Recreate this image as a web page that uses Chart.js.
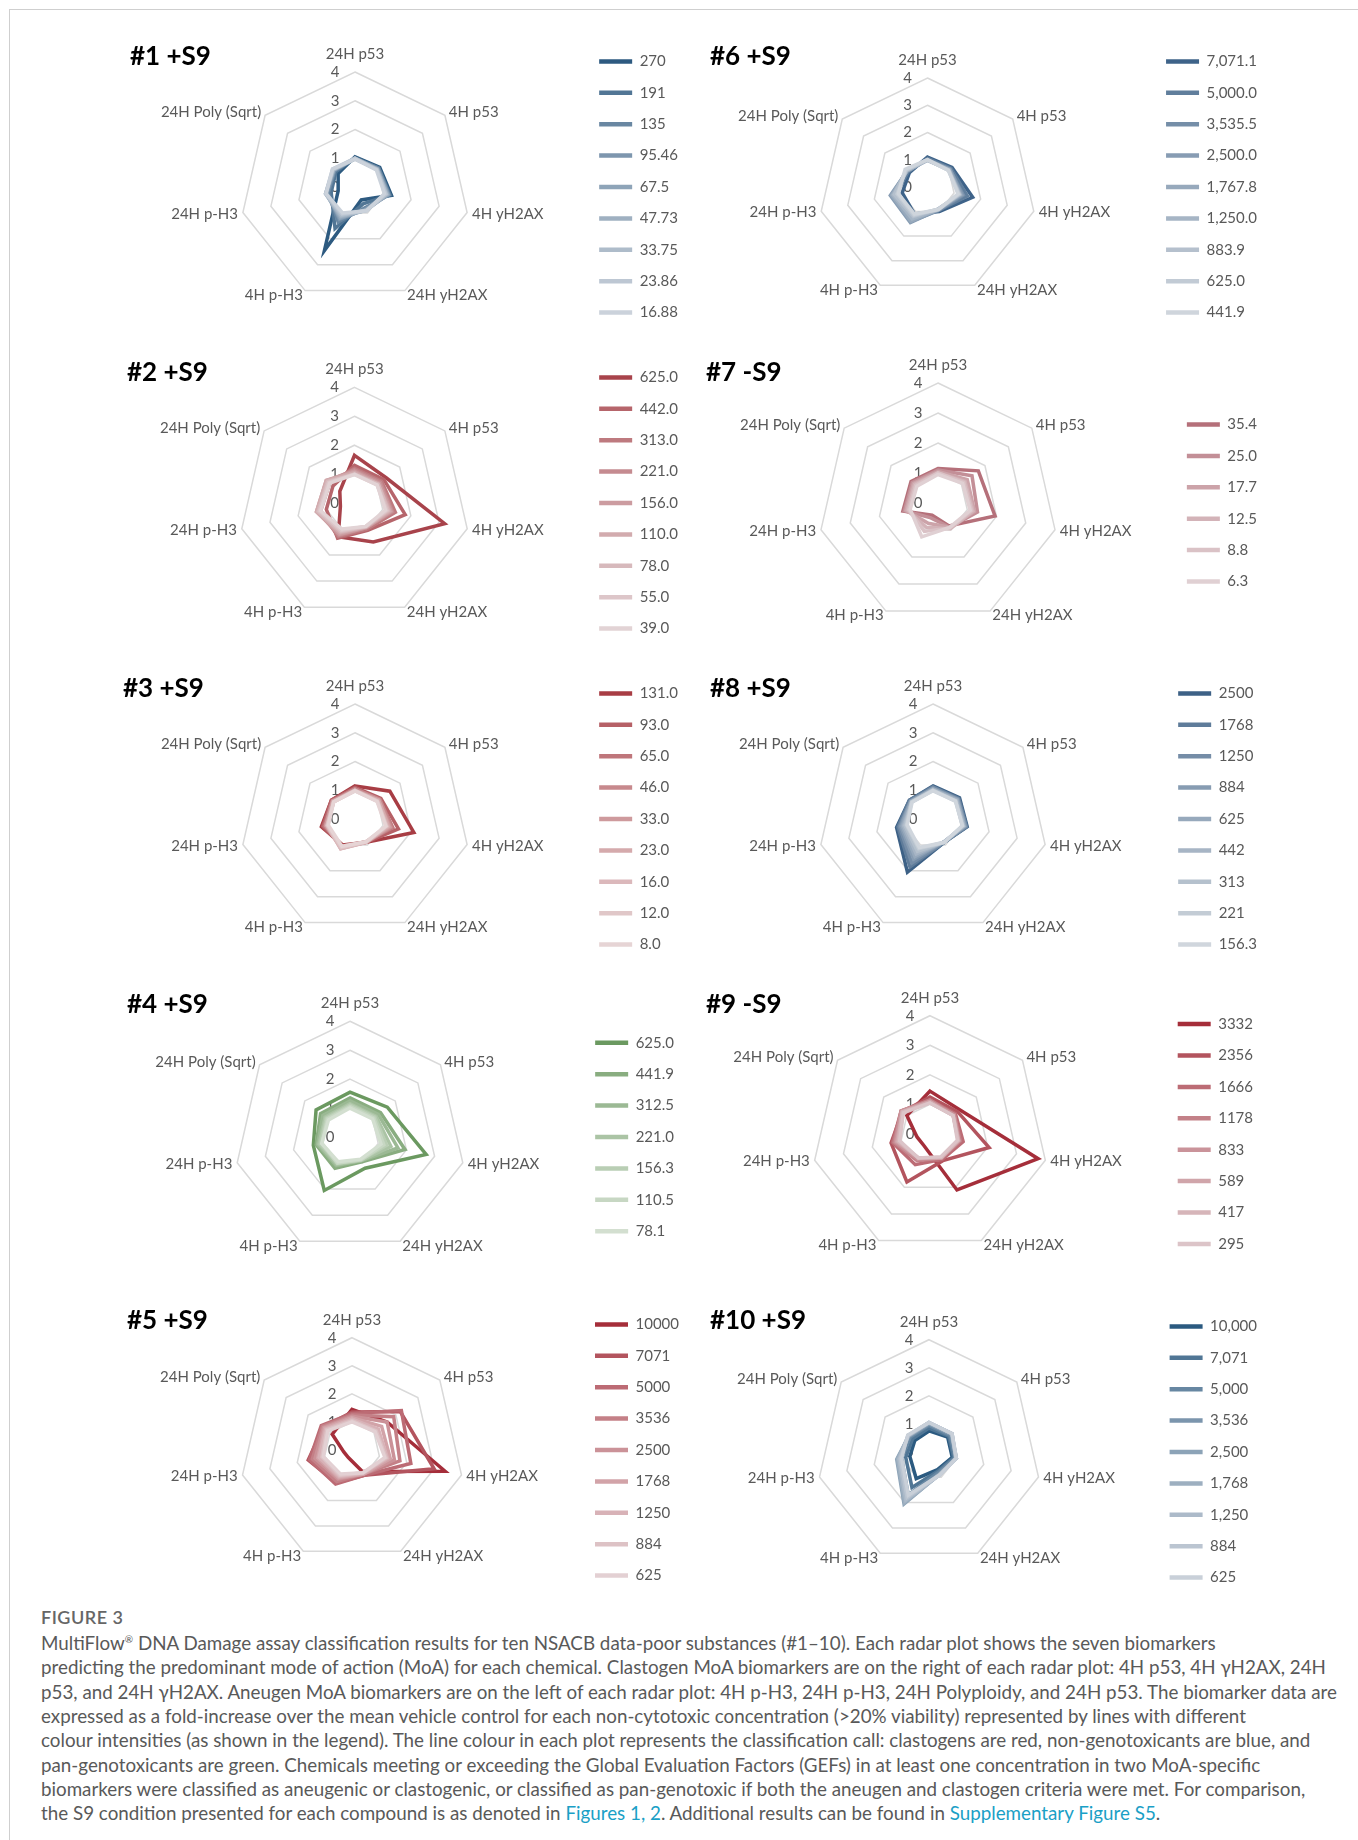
<!DOCTYPE html>
<html>
<head>
<meta charset="utf-8">
<script src="https://cdn.jsdelivr.net/npm/chart.js@4.4.1/dist/chart.umd.min.js"></script>
<style>
  html, body { margin: 0; padding: 0; background: #ffffff; }
  body { width: 1358px; height: 1840px; position: relative; overflow: hidden; font-family: Lato, "Open Sans", sans-serif; }
  .frame { position: absolute; left: 9px; top: 9px; right: 0; bottom: 0; border-left: 1px solid #cfcfcf; border-top: 1px solid #cfcfcf; }
  .ptitle { position: absolute; font: bold 26px Lato, sans-serif; line-height: 30px; color: #000; white-space: nowrap; z-index: 2; }
  canvas { position: absolute; }
  .fig { position: absolute; left: 41px; top: 1605px; font: 600 18px Lato, sans-serif; line-height: 24px; color: #666; letter-spacing: 0.5px; }
  .cap { position: absolute; left: 41px; top: 1631px; font: 18.8px Lato, sans-serif; line-height: 24.35px; color: #595959; white-space: nowrap; }
  .cap a { color: #1aa0c6; text-decoration: none; }
  .cap sup { font-size: 10px; line-height: 0; vertical-align: 7px; }
</style>
</head>
<body>
<div class="frame"></div>
<div id="root"></div>
<div class="fig">FIGURE 3</div>
<div class="cap">MultiFlow<sup>®</sup> DNA Damage assay classification results for ten NSACB data-poor substances (#1–10). Each radar plot shows the seven biomarkers<br>predicting the predominant mode of action (MoA) for each chemical. Clastogen MoA biomarkers are on the right of each radar plot: 4H p53, 4H γH2AX, 24H<br>p53, and 24H γH2AX. Aneugen MoA biomarkers are on the left of each radar plot: 4H p-H3, 24H p-H3, 24H Polyploidy, and 24H p53. The biomarker data are<br>expressed as a fold-increase over the mean vehicle control for each non-cytotoxic concentration (&gt;20% viability) represented by lines with different<br>colour intensities (as shown in the legend). The line colour in each plot represents the classification call: clastogens are red, non-genotoxicants are blue, and<br>pan-genotoxicants are green. Chemicals meeting or exceeding the Global Evaluation Factors (GEFs) in at least one concentration in two MoA-specific<br>biomarkers were classified as aneugenic or clastogenic, or classified as pan-genotoxic if both the aneugen and clastogen criteria were met. For comparison,<br>the S9 condition presented for each compound is as denoted in <a>Figures 1, 2</a>. Additional results can be found in <a>Supplementary Figure S5</a>.</div>
<script>
// ---------- DATA ----------
const axisLabels = ['24H p53', '4H p53', '4H yH2AX', '24H yH2AX', '4H p-H3', '24H p-H3', '24H Poly (Sqrt)'];
const tickValues = [0, 1, 2, 3, 4];

const conc1 = ['270', '191', '135', '95.46', '67.5', '47.73', '33.75', '23.86', '16.88'];
const fold1 = [
  [1.05, 1.10, 1.30, 0.50, 2.45, 0.60, 0.75],
  [1.02, 1.05, 1.25, 0.65, 1.60, 0.85, 0.85],
  [1.00, 1.05, 1.22, 0.80, 1.35, 0.95, 0.90],
  [1.00, 1.02, 1.20, 0.85, 1.25, 1.00, 0.92],
  [0.98, 1.00, 1.18, 0.88, 1.20, 1.02, 0.95],
  [1.00, 1.00, 1.15, 0.90, 1.15, 1.05, 0.95],
  [0.98, 0.98, 1.12, 0.90, 1.10, 1.05, 0.97],
  [1.00, 0.97, 1.10, 0.92, 1.05, 1.05, 1.00],
  [0.97, 0.95, 1.05, 0.92, 1.00, 1.03, 1.00]
];

const conc2 = ['625.0', '442.0', '313.0', '221.0', '156.0', '110.0', '78.0', '55.0', '39.0'];
const fold2 = [
  [1.65, 1.40, 3.20, 1.50, 1.30, 0.50, 0.65],
  [1.30, 1.30, 1.80, 1.05, 1.35, 1.00, 0.95],
  [1.20, 1.20, 1.45, 1.00, 1.30, 1.20, 1.10],
  [1.15, 1.15, 1.35, 0.95, 1.25, 1.30, 1.20],
  [1.10, 1.10, 1.30, 0.95, 1.20, 1.35, 1.25],
  [1.05, 1.05, 1.25, 0.92, 1.15, 1.35, 1.25],
  [1.00, 1.05, 1.20, 0.92, 1.10, 1.30, 1.20],
  [1.00, 1.00, 1.15, 0.90, 1.05, 1.25, 1.15],
  [0.98, 1.00, 1.10, 0.90, 1.00, 1.20, 1.10]
];

const conc3 = ['131.0', '93.0', '65.0', '46.0', '33.0', '23.0', '16.0', '12.0', '8.0'];
const fold3 = [
  [1.15, 1.55, 2.10, 0.90, 1.00, 1.20, 1.05],
  [1.10, 1.15, 1.55, 0.90, 1.05, 1.15, 1.05],
  [1.05, 1.10, 1.35, 0.88, 1.05, 1.10, 1.02],
  [1.05, 1.10, 1.30, 0.90, 1.10, 1.05, 1.00],
  [1.00, 1.05, 1.25, 0.88, 1.10, 1.05, 1.00],
  [1.00, 1.05, 1.20, 0.90, 1.15, 1.00, 0.98],
  [1.00, 1.00, 1.15, 0.90, 1.15, 1.00, 0.95],
  [0.98, 1.00, 1.12, 0.88, 1.10, 0.98, 0.95],
  [0.98, 0.98, 1.10, 0.88, 1.05, 0.95, 0.95]
];

const conc4 = ['625.0', '441.9', '312.5', '221.0', '156.3', '110.5', '78.1'];
const fold4 = [
  [1.55, 1.65, 2.70, 1.20, 2.05, 1.30, 1.50],
  [1.35, 1.35, 1.95, 0.95, 1.20, 1.20, 1.30],
  [1.25, 1.25, 1.70, 0.90, 1.10, 1.15, 1.20],
  [1.15, 1.15, 1.45, 0.90, 1.05, 1.10, 1.10],
  [1.10, 1.10, 1.30, 0.88, 1.00, 1.05, 1.05],
  [1.05, 1.05, 1.20, 0.88, 1.00, 1.00, 1.00],
  [1.00, 1.00, 1.10, 0.85, 0.95, 1.00, 0.95]
];

const conc5 = ['10000', '7071', '5000', '3536', '2500', '1768', '1250', '884', '625'];
const fold5 = [
  [1.45, 1.60, 3.40, 0.85, 0.30, 0.30, 0.90],
  [1.35, 2.20, 3.00, 1.00, 1.30, 1.60, 1.30],
  [1.30, 2.25, 2.15, 1.00, 1.35, 1.55, 1.40],
  [1.25, 1.90, 1.75, 0.95, 1.25, 1.45, 1.35],
  [1.20, 1.60, 1.55, 0.95, 1.15, 1.35, 1.30],
  [1.15, 1.35, 1.40, 0.95, 1.10, 1.25, 1.25],
  [1.10, 1.20, 1.30, 0.92, 1.05, 1.20, 1.20],
  [1.05, 1.10, 1.25, 0.90, 1.00, 1.10, 1.15],
  [1.00, 1.05, 1.20, 0.90, 0.95, 1.05, 1.10]
];

const conc6 = ['7,071.1', '5,000.0', '3,535.5', '2,500.0', '1,767.8', '1,250.0', '883.9', '625.0', '441.9'];
const fold6 = [
  [1.10, 1.15, 1.70, 1.00, 1.10, 0.95, 0.85],
  [1.05, 1.10, 1.50, 0.95, 1.25, 1.20, 0.90],
  [1.00, 1.05, 1.35, 0.95, 1.40, 1.35, 0.95],
  [1.00, 1.05, 1.30, 0.92, 1.45, 1.40, 0.95],
  [0.98, 1.02, 1.25, 0.90, 1.40, 1.35, 0.95],
  [1.00, 1.00, 1.22, 0.92, 1.30, 1.30, 0.97],
  [0.98, 1.00, 1.20, 0.90, 1.20, 1.25, 1.00],
  [1.00, 0.98, 1.18, 0.90, 1.15, 1.15, 1.00],
  [1.00, 0.98, 1.15, 0.92, 1.10, 1.10, 1.05]
];

const conc7 = ['35.4', '25.0', '17.7', '12.5', '8.8', '6.3'];
const fold7 = [
  [1.15, 1.72, 1.95, 0.85, 0.45, 1.20, 1.15],
  [1.10, 1.45, 1.35, 0.90, 0.55, 1.15, 1.10],
  [1.05, 1.25, 1.25, 0.90, 0.75, 1.10, 1.05],
  [1.00, 1.15, 1.20, 0.95, 0.90, 1.05, 1.00],
  [1.00, 1.10, 1.15, 0.92, 1.05, 1.00, 0.95],
  [0.95, 1.05, 1.10, 0.90, 1.25, 0.95, 0.90]
];

const conc8 = ['2500', '1768', '1250', '884', '625', '442', '313', '221', '156.3'];
const fold8 = [
  [1.15, 1.18, 1.22, 0.90, 2.05, 1.30, 1.05],
  [1.12, 1.15, 1.20, 0.90, 1.85, 1.25, 1.05],
  [1.10, 1.12, 1.18, 0.90, 1.70, 1.20, 1.00],
  [1.05, 1.10, 1.15, 0.88, 1.55, 1.15, 1.00],
  [1.05, 1.08, 1.12, 0.88, 1.45, 1.10, 0.98],
  [1.02, 1.05, 1.10, 0.88, 1.35, 1.05, 0.95],
  [1.00, 1.02, 1.08, 0.90, 1.25, 1.00, 0.95],
  [1.00, 1.00, 1.05, 0.90, 1.15, 0.95, 0.95],
  [0.98, 1.00, 1.05, 0.90, 1.10, 0.92, 0.93]
];

const conc9 = ['3332', '2356', '1666', '1178', '833', '589', '417', '295'];
const fold9 = [
  [1.45, 1.30, 3.75, 2.10, 0.45, 0.45, 1.00],
  [1.25, 1.20, 2.05, 1.00, 1.80, 1.35, 1.20],
  [1.15, 1.10, 1.15, 0.95, 1.15, 1.30, 1.25],
  [1.15, 1.05, 1.05, 0.90, 1.00, 1.25, 1.25],
  [1.10, 1.05, 1.00, 0.90, 0.95, 1.20, 1.25],
  [1.10, 1.00, 1.00, 0.88, 0.90, 1.15, 1.20],
  [1.05, 1.00, 0.98, 0.88, 0.90, 1.10, 1.20],
  [1.05, 1.00, 0.95, 0.85, 0.90, 1.05, 1.15]
];

const conc10 = ['10,000', '7,071', '5,000', '3,536', '2,500', '1,768', '1,250', '884', '625'];
const fold10 = [
  [0.75, 0.85, 0.85, 0.70, 1.05, 0.70, 0.65],
  [0.85, 0.90, 0.90, 0.75, 1.40, 0.85, 0.75],
  [0.95, 0.95, 0.95, 0.80, 1.70, 1.00, 0.85],
  [1.00, 1.00, 1.00, 0.85, 1.90, 1.10, 0.90],
  [1.02, 1.02, 1.00, 0.88, 2.05, 1.18, 0.92],
  [1.05, 1.05, 0.98, 0.88, 2.00, 1.15, 0.93],
  [1.05, 1.05, 0.98, 0.90, 1.90, 1.10, 0.95],
  [1.05, 1.05, 1.00, 0.90, 1.80, 1.05, 0.95],
  [1.05, 1.05, 1.00, 0.90, 1.70, 1.00, 0.97]
];

// ---------- LAYOUT / STYLE ----------
const TEXT = '#595959';
const FONT_SIZE = 15;
const panels = [
  { title: '#1 +S9',  conc: conc1,  vals: fold1,  dark: '#2d5a80', light: '#cbd2db', cx: 355,   cy: 187,  r: 115,   lx: 599,  tx: 130, ty: 55,   left: 120 },
  { title: '#2 +S9',  conc: conc2,  vals: fold2,  dark: '#a8434b', light: '#e2d3d5', cx: 354.5, cy: 503,  r: 115.6, lx: 599,  tx: 127, ty: 371,  left: 120 },
  { title: '#3 +S9',  conc: conc3,  vals: fold3,  dark: '#a83d44', light: '#e6d4d5', cx: 355,   cy: 819,  r: 115,   lx: 599.5, tx: 123, ty: 687, left: 120 },
  { title: '#4 +S9',  conc: conc4,  vals: fold4,  dark: '#6b9960', light: '#d3dfd0', cx: 350,   cy: 1137, r: 115.7, lx: 595,  tx: 127, ty: 1003, left: 120 },
  { title: '#5 +S9',  conc: conc5,  vals: fold5,  dark: '#a52e3a', light: '#e3d0d3', cx: 352,   cy: 1450, r: 112.3, lx: 595,  tx: 127, ty: 1319, left: 120 },
  { title: '#6 +S9',  conc: conc6,  vals: fold6,  dark: '#3e6389', light: '#cfd5dc', cx: 927.5, cy: 187,  r: 109,   lx: 1166, tx: 710, ty: 55,   left: 700 },
  { title: '#7 -S9',  conc: conc7,  vals: fold7,  dark: '#b5707a', light: '#e0d0d3', cx: 938,   cy: 503,  r: 120,   lx: 1187, tx: 706, ty: 371,  left: 700 },
  { title: '#8 +S9',  conc: conc8,  vals: fold8,  dark: '#3d6186', light: '#d0d6dd', cx: 933,   cy: 819,  r: 115,   lx: 1178, tx: 710, ty: 687,  left: 700 },
  { title: '#9 -S9',  conc: conc9,  vals: fold9,  dark: '#a52e3a', light: '#dcc4c8', cx: 930,   cy: 1134, r: 118.3, lx: 1178, tx: 706, ty: 1003, left: 700 },
  { title: '#10 +S9', conc: conc10, vals: fold10, dark: '#2b5a80', light: '#c9d0d9', cx: 929,   cy: 1452, r: 112.3, lx: 1170, tx: 710, ty: 1319, left: 700 }
];

function hexToRgb(h) { const n = parseInt(h.slice(1), 16); return [(n >> 16) & 255, (n >> 8) & 255, n & 255]; }
function mix(a, b, t) {
  const A = hexToRgb(a), B = hexToRgb(b);
  const c = A.map((v, i) => Math.round(v + (B[i] - v) * t));
  return `rgb(${c[0]},${c[1]},${c[2]})`;
}

const radarText = {
  id: 'radarText',
  beforeDatasetsDraw(chart) {
    const s = chart.scales.r, ctx = chart.ctx;
    ctx.save();
    ctx.fillStyle = TEXT;
    ctx.font = FONT_SIZE + 'px Lato';
    ctx.textBaseline = 'middle';
    chart.data.labels.forEach((lab, i) => {
      const p = s.getPointPosition(i, s.drawingArea + 5);
      const dx = p.x - s.xCenter;
      let y = p.y;
      if (Math.abs(dx) < 1) { ctx.textAlign = 'center'; y = s.yCenter - s.drawingArea - 18; }
      else ctx.textAlign = dx > 0 ? 'left' : 'right';
      ctx.fillText(lab, p.x, y);
    });
    ctx.textAlign = 'center';
    s.ticks.forEach(t => {
      const y = s.yCenter - s.getDistanceFromCenterForValue(t.value);
      ctx.fillText(t.label, s.xCenter - 20, y);
    });
    ctx.restore();
  }
};

const measure = document.createElement('canvas').getContext('2d');
measure.font = FONT_SIZE + 'px Lato';
const root = document.getElementById('root');
const H = 310;
const BOXW = 33;
const LEG_PAD = 16.4;

panels.forEach(p => {
  const t = document.createElement('div');
  t.className = 'ptitle';
  t.textContent = p.title;
  t.style.left = p.tx + 'px';
  t.style.top = (p.ty - 15) + 'px';
  root.appendChild(t);

  const maxText = Math.max(...p.conc.map(c => measure.measureText(c).width));
  const colW = BOXW + FONT_SIZE / 2 + maxText;
  const top = Math.round(p.cy) - H / 2;
  const W = Math.round(p.lx - p.left + colW + 10);
  const cv = document.createElement('canvas');
  cv.width = W; cv.height = H;
  cv.style.left = p.left + 'px';
  cv.style.top = top + 'px';
  cv.style.width = W + 'px'; cv.style.height = H + 'px';
  root.appendChild(cv);

  const n = p.conc.length;
  const cols = p.conc.map((c, i) => mix(p.dark, p.light, n > 1 ? Math.pow(i / (n - 1), 0.7) : 0));
  const cxRel = p.cx - p.left, cyRel = p.cy - top, R = p.r;

  new Chart(cv, {
    type: 'radar',
    data: {
      labels: axisLabels,
      datasets: p.conc.map((c, i) => ({
        label: c,
        data: p.vals[i],
        order: n - i,
        borderColor: cols[i],
        backgroundColor: cols[i],
        borderWidth: 3.5,
        pointRadius: 0,
        pointHoverRadius: 0,
        fill: false,
        tension: 0
      }))
    },
    options: {
      responsive: false,
      animation: false,
      devicePixelRatio: 1,
      layout: { padding: 0 },
      events: [],
      plugins: {
        title: { display: false },
        tooltip: { enabled: false },
        legend: {
          position: 'right',
          align: 'center',
          labels: {
            boxWidth: BOXW,
            boxHeight: 4.5,
            padding: LEG_PAD,
            color: TEXT,
            font: { family: 'Lato', size: FONT_SIZE },
            sort: (a, b) => a.datasetIndex - b.datasetIndex,
            generateLabels(chart) {
              const items = Chart.defaults.plugins.legend.labels.generateLabels(chart);
              items.forEach(it => { it.lineWidth = 0; });
              return items;
            }
          }
        }
      },
      scales: {
        r: {
          min: tickValues[0],
          max: tickValues[tickValues.length - 1],
          ticks: { display: false, stepSize: 1 },
          pointLabels: { display: false },
          angleLines: { display: false },
          grid: { color: '#d9d9d9', lineWidth: 1.5, circular: false },
          afterFit(s) { s.xCenter = cxRel; s.yCenter = cyRel; s.drawingArea = R; }
        }
      }
    },
    plugins: [radarText]
  });
});
</script>
</body>
</html>
